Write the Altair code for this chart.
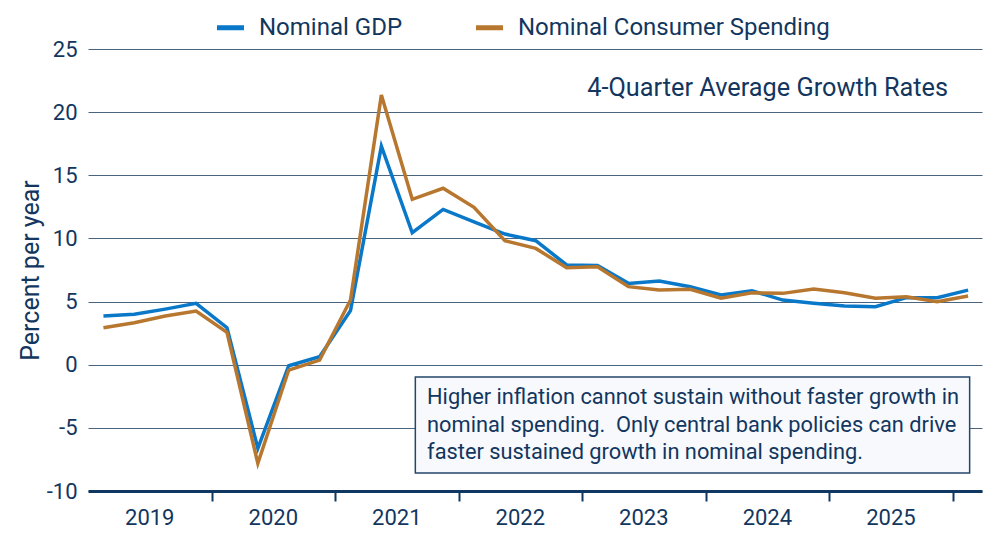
import altair as alt
import pandas as pd

# Quarterly observations, 2019Q1 through 2026Q1
quarters = [f"{y}Q{q}" for y in range(2019, 2026) for q in range(1, 5)] + ["2026Q1"]

# 4-quarter average growth rates, percent per year
nominal_gdp = [3.86, 3.99, 4.40, 4.86, 2.93, -6.62, -0.08, 0.63,
               4.28, 17.30, 10.45, 12.30, 11.32, 10.35, 9.82, 7.90,
               7.85, 6.44, 6.63, 6.18, 5.52, 5.86, 5.12, 4.86,
               4.65, 4.59, 5.31, 5.31, 5.91]
nominal_spending = [2.93, 3.33, 3.86, 4.25, 2.57, -7.81, -0.42, 0.37,
                    5.12, 21.35, 13.10, 13.97, 12.46, 9.82, 9.21, 7.68,
                    7.76, 6.18, 5.91, 5.97, 5.26, 5.70, 5.65, 5.99,
                    5.70, 5.26, 5.38, 4.99, 5.44]

series_names = ["Nominal GDP", "Nominal Consumer Spending"]
series_colors = ["#0a78c8", "#b8772f"]
years = [2019, 2020, 2021, 2022, 2023, 2024, 2025]
y_ticks = [-10, -5, 0, 5, 10, 15, 20, 25]

note_lines = [
    "Higher inflation cannot sustain without faster growth in",
    "nominal spending.\u00a0 Only central bank policies can drive",
    "faster sustained growth in nominal spending.",
]
subtitle = "4-Quarter Average Growth Rates"

TEXT = "#12365e"
W, H = 894, 442


def quarter_pos(label):
    yr, q = int(label[:4]), int(label[-1])
    return 4 * (yr - 2019) + q - 0.5


rows = []
for name, vals in zip(series_names, [nominal_gdp, nominal_spending]):
    for q, v in zip(quarters, vals):
        rows.append({"pos": quarter_pos(q), "series": name, "value": v})
df = pd.DataFrame(rows)

x_scale = alt.Scale(domain=[0, 28.95], nice=False, zero=False)
y_scale = alt.Scale(domain=[-10, 25], nice=False, zero=False)

lines = alt.Chart(df).mark_line(strokeWidth=3.5).encode(
    x=alt.X("pos:Q", scale=x_scale,
            axis=alt.Axis(values=[4, 8, 12, 16, 20, 24, 28], labels=False,
                          grid=False, title=None, domainColor="#0e3761",
                          domainWidth=3, tickColor="#0e3761", tickWidth=2,
                          tickSize=10)),
    y=alt.Y("value:Q", scale=y_scale,
            axis=alt.Axis(values=y_ticks, grid=True, gridColor="#4a6580",
                          gridWidth=1, domain=False, ticks=False,
                          labelFontSize=22, labelColor=TEXT, labelPadding=11,
                          labelExpr="toString(datum.value)",
                          title="Percent per year", titleFontSize=25,
                          titleFontWeight="normal", titleColor=TEXT,
                          titlePadding=3)),
    color=alt.Color("series:N",
                    scale=alt.Scale(domain=series_names, range=series_colors),
                    sort=series_names,
                    legend=alt.Legend(orient="none", legendX=126, legendY=-38,
                                      direction="horizontal", title=None,
                                      symbolType="stroke", symbolStrokeWidth=5,
                                      symbolSize=730, labelFontSize=24,
                                      labelColor=TEXT, labelOffset=12,
                                      labelLimit=0, columnPadding=62,
                                      padding=0)),
    detail="series:N",
)

year_df = pd.DataFrame({"mid": [4 * (y - 2019) + 2 for y in years],
                        "label": [str(y) for y in years]})
year_labels = alt.Chart(year_df).mark_text(
    fontSize=22, color=TEXT, baseline="middle"
).encode(x=alt.X("mid:Q", scale=x_scale), y=alt.value(H + 27), text="label:N")

sub = alt.Chart(pd.DataFrame({"t": [subtitle]})).mark_text(
    fontSize=25.3, color=TEXT, align="right", baseline="middle"
).encode(x=alt.value(860), y=alt.value(39), text="t:N")

box_df = pd.DataFrame({"x0": [10.6], "x1": [28.55], "y0": [-0.97], "y1": [-8.57]})
box = alt.Chart(box_df).mark_rect(
    fill="#f7f9fc", stroke="#23466b", strokeWidth=1.5
).encode(x=alt.X("x0:Q", scale=x_scale), x2="x1:Q",
         y=alt.Y("y0:Q", scale=y_scale), y2="y1:Q")

note_df = pd.DataFrame({"x": [10.98], "y": [-2.59], "t": ["\n".join(note_lines)]})
note = alt.Chart(note_df).mark_text(
    fontSize=21.8, color=TEXT, align="left", baseline="middle",
    lineBreak="\n", lineHeight=27.5
).encode(x=alt.X("x:Q", scale=x_scale), y=alt.Y("y:Q", scale=y_scale),
         text="t:N")

chart = alt.layer(lines, box, note, year_labels, sub).properties(
    width=W, height=H,
    autosize=alt.AutoSizeParams(type="none"),
    padding={"left": 88, "top": 49, "right": 18, "bottom": 49},
    background="white",
).configure(font="Roboto").configure_view(stroke=None)

chart.save("out.html", embed_options={"renderer": "svg", "actions": False})
